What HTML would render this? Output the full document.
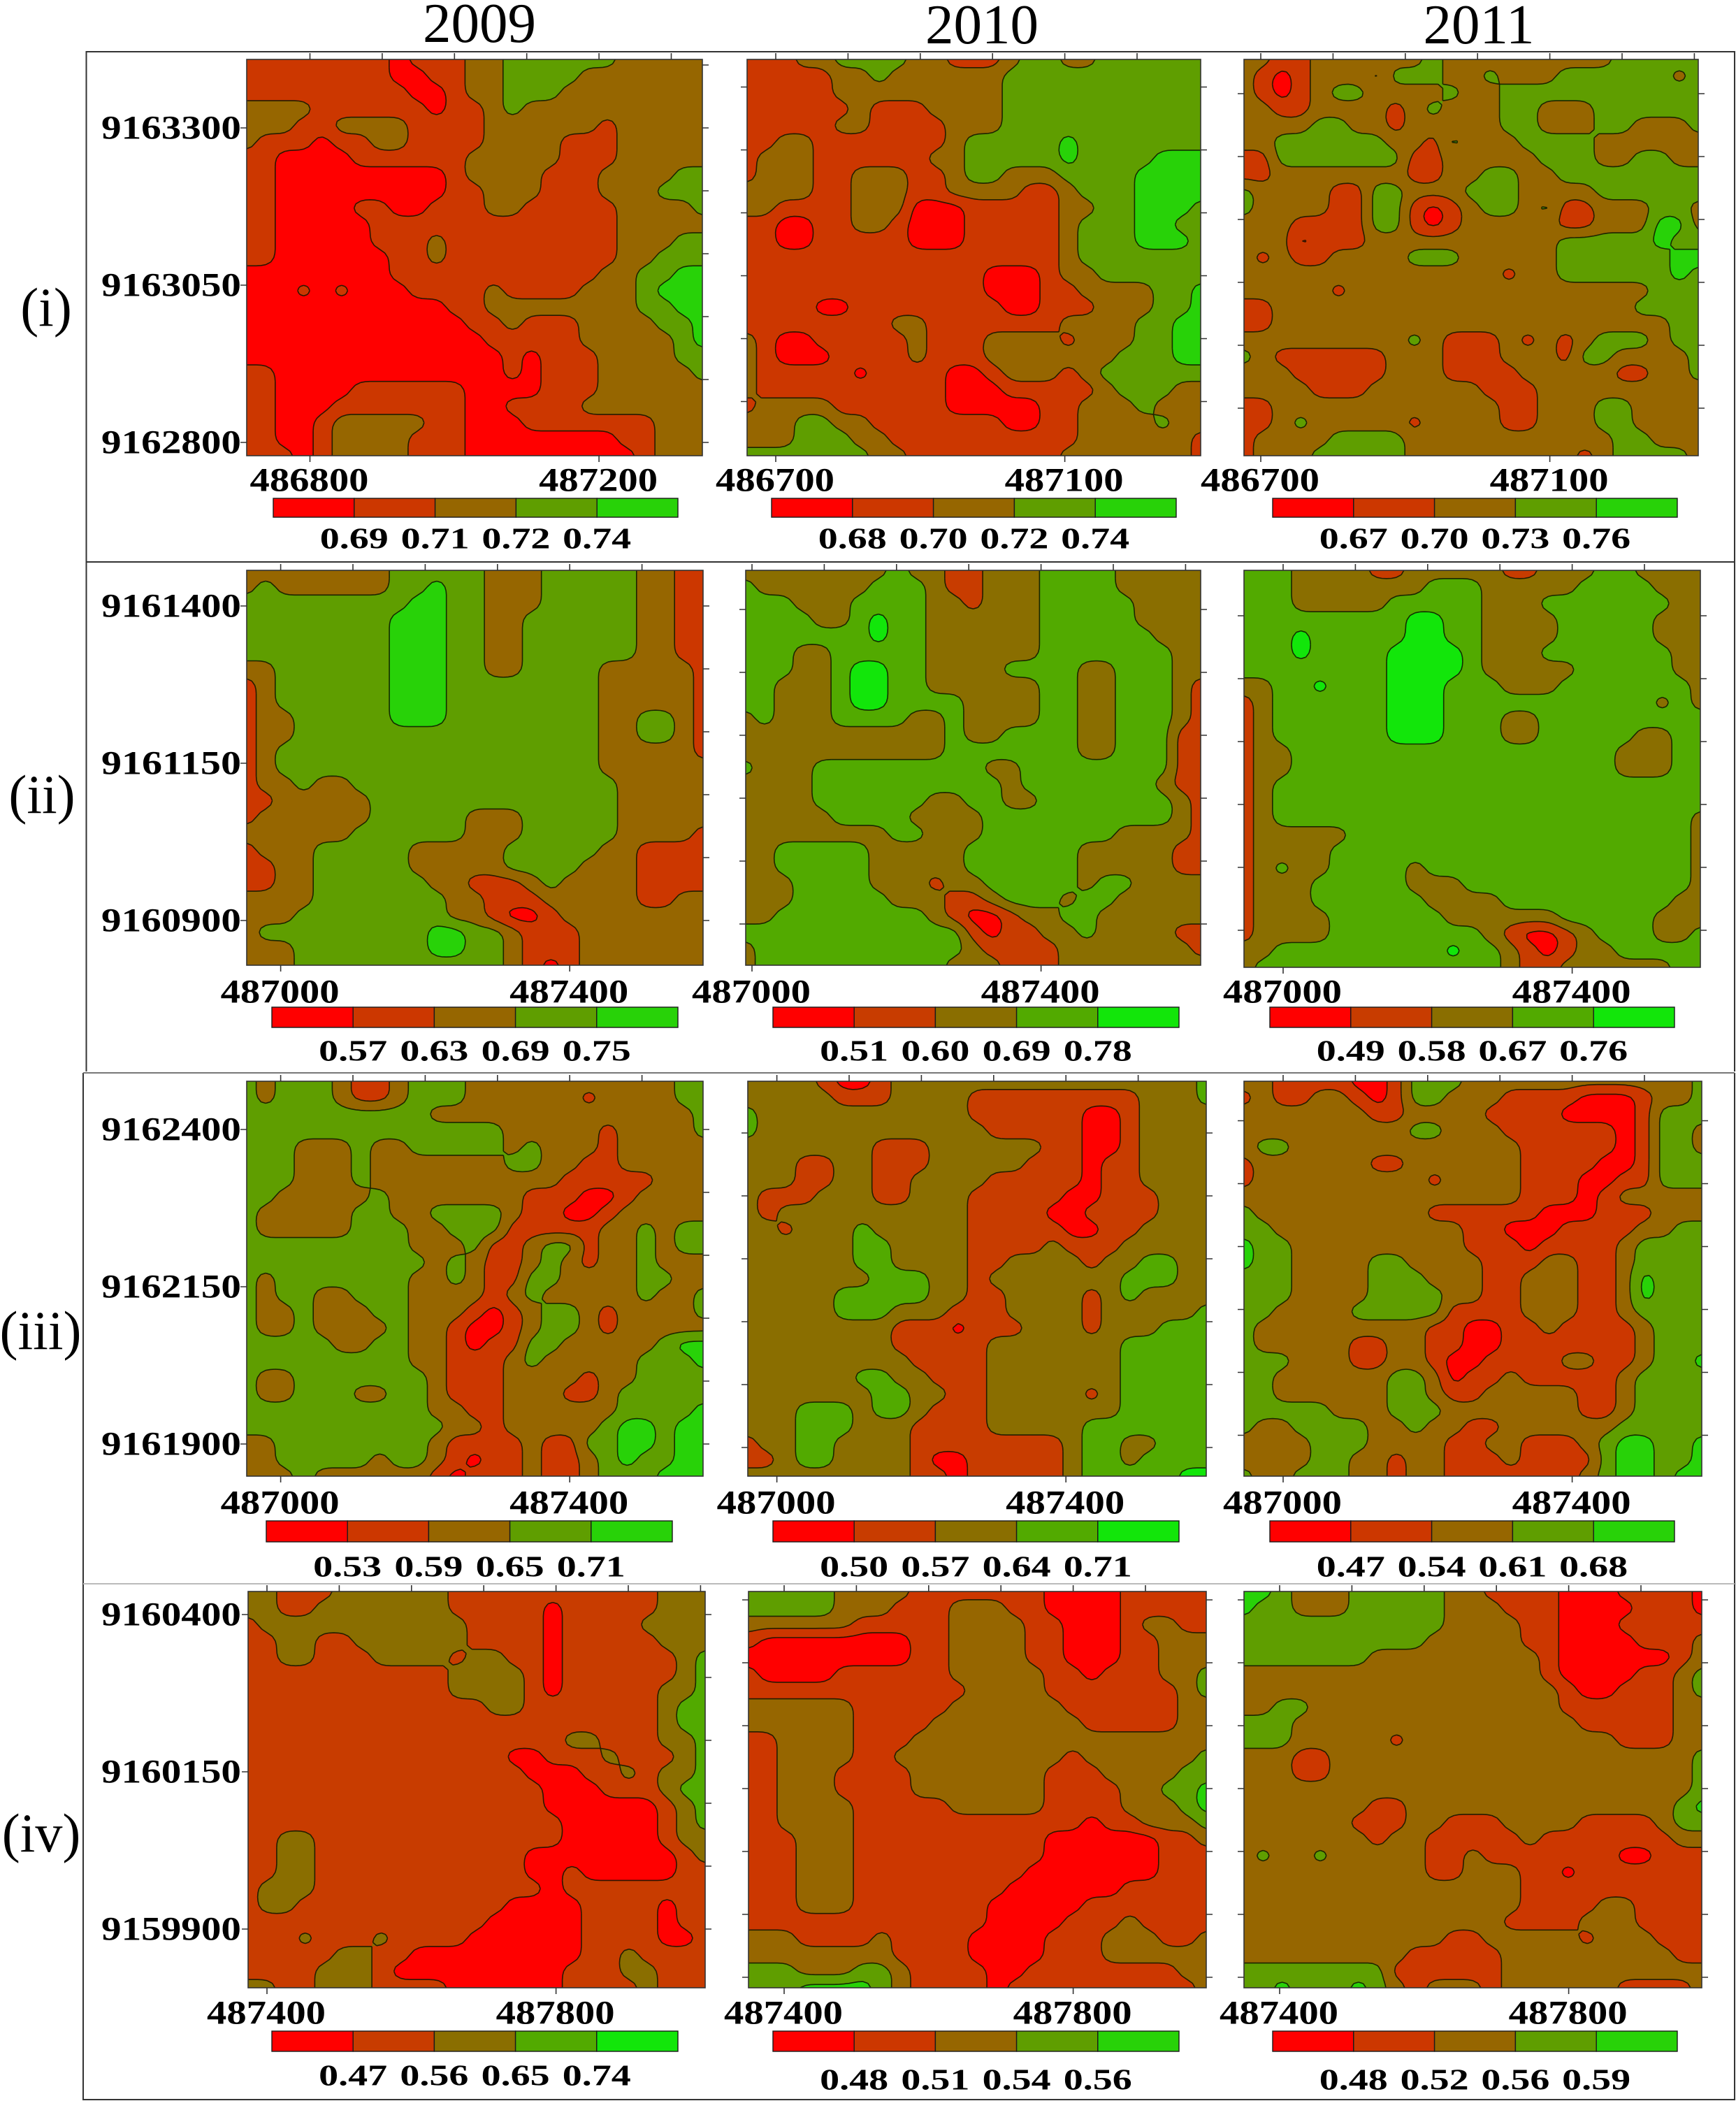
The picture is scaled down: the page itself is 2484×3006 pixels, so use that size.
<!DOCTYPE html>
<html lang="en">
<head>
<meta charset="utf-8">
<title>NDVI contour maps 2009-2011</title>
<style>
html,body{margin:0;padding:0;background:#fff;}
svg{display:block;}
text{font-family:"Liberation Serif",serif;fill:#000;}
.tick-text{font-weight:bold;}
</style>
</head>
<body>
<svg id="figure" xmlns="http://www.w3.org/2000/svg" width="2484" height="3006" viewBox="0 0 2484 3006">
<rect x="0" y="0" width="2484" height="3006" fill="#fff"/>
<g stroke="#333" stroke-width="2" fill="none">
<path d="M123.5 1533V74H2482V1533"/>
<path d="M119 1535V3004H2482V1535"/>
<line x1="123" y1="804" x2="2482" y2="804"/>
<line x1="119" y1="1535" x2="2482" y2="1535" stroke="#777"/>
<line x1="119" y1="2266" x2="2482" y2="2266" stroke="#bbb"/>
</g>
<text x="686" y="60" font-size="81" text-anchor="middle">2009</text>
<text x="1405" y="62" font-size="81" text-anchor="middle">2010</text>
<text x="2116" y="62" font-size="81" text-anchor="middle">2011</text>
<text x="66" y="466" font-size="78" text-anchor="middle">(i)</text>
<text x="60" y="1163" font-size="78" text-anchor="middle">(ii)</text>
<text x="58" y="1930" font-size="78" text-anchor="middle">(iii)</text>
<text x="59" y="2649" font-size="78" text-anchor="middle">(iv)</text>
<g id="panels"></g>
</svg>
<script>
// Value class at each sample location (0 = lowest NDVI class ... 4 = highest)
const gridP1 = ["1111111101112233333322222","1111111100112233332222222","1111111110012233322222222","2222111111011232222222222","2221122221111222222122222","2111011221111222211122222","1100001111112222211122222","1100000000012222111222233","1100000000011222111222333","1100001100111221111122223","1100000111111111111122222","1100000111211111111122233","1100000011211111111122333","0000000011111111111223344","0001010001111211112223444","0000000000011222222223344","0000000000001121112222334","0000000000000111112222234","0000000000000010111222233","1100000000000010111222223","1100001111110000111222222","1100011111110011112222222","1100122222110001111111222","1100122221110000000011222","1110122221110000000001222"];
const gridP2 = ["1112233332211123322333333","1111122322222233333333333","1111122222222233333333333","1111112111222233333333333","1111122111122233333333333","1122111111123333343333333","1222111111223333343333444","1222112221123322233334444","2222112221122221123334444","2211112220001111122334443","1100112210001111123334433","1100111110001111123334443","1111111111111111123333333","1111111111111000122333333","1111111111111000112222334","1111001111111100111222334","1111111122111111122223344","2100111112111222212223344","2100011112111222222233344","2111110111100122212333333","2111111111100011111233322","1222211111100000112223222","2223322111111100112222322","2223332211111111112222221","3333333221111111122222221"];
const gridP3 = ["2211222222322222222233333","2101222133322322233333323","2101233222232233333333333","2211222212322233222333333","2222332212222233222332223","2233333322132223333222222","1133333331122222333223322","1122222221122332233333333","3222211332223332222333333","3222211331012332311222332","2221111331012222211222442","2220111222222222233333433","2121122223332222233333344","2222222222222212233333343","2222212222222222222222333","1122222222222222222223333","1122222222222222222222233","2222222223211121212333233","3211111122211122213322223","2221111122211112222211223","2222111222222111222222222","1122222222222211222332222","1123222221222211222332222","1222233332222222222233222","1222333332222222221233332"];
const gridP4 = ["2222222233333222333332211","2322222233433222333332211","3333333334433222333332211","3333333344433223333332211","3333333344433223333332211","3333333344433223333332211","2233333344433223333222221","1233333344433333333222221","1233333344433333333222221","1223333344433333333223321","1223333333333333333223321","1233333333333333333222221","1233333333333333333222222","1223223333333333333322222","1122222333333333333322222","1222222333332223333322222","2222223333332223333322221","1222333332222233333221111","1122333332222233332221111","1122333333221112322221111","2222333333322111222221122","2223333333322100122222222","2333333333443321112222222","2223333333443321112222222","2223333333333321012222222"];
const gridP5 = ["2222222232211222333322222","3222222333211222333322222","3332223333221222333332222","3333223433222222333332222","3333333433222222333333222","3332233333222222333333322","3332234433222233332233322","3322234433222222332233321","3322234433332222332233321","2322233332232222332233321","2222222222232233332233311","2222222222233333332233311","3222333333333223333333311","2222333333333323333333211","2222333333223322333333321","2222233332222333333333321","2222222233222333333322221","2233333222223333332222211","2233333222223333332222211","2223333222122333332332222","2223333322211233323322222","2233333333210012233222222","3333333333331011223222211","2333333333332111122222221","2333333333322211122222222"];
const gridP6 = ["3332222112222211222332222","3332222222333222223333222","3332222233333222333333322","3333333334433222233333222","3334333334433222233333222","3334333344443222333333322","3333333344443222223333322","2233433344433322233333332","1233333344433333333333232","1233333344433322333333333","1233333344433322333332233","1223333333333333333322233","1223333333333333333322233","1233333333333333333333333","1233333333333333333333333","1233333333333333333333332","1222223333333333333333332","1222233333333333333333332","1232233332333333333333332","1222333332223333333333332","1222333333222233333333322","1222233333322222233333222","1222233333333210012333223","2233333333343321012233333","2333333333333321122222233"];
const gridP7 = ["3233321123332222222222233","3233321123332222221222233","3333333333222222222222223","3333333333333322222122223","3332223223333323222122222","3332223222222233221122222","3332223222222222211111222","3322222322222221110012222","3222223322333321100122222","3222223332233311111223233","3333333332223112331223233","3333333333232112321223222","3233333332232113322223322","3233223332222123222223223","3223222332221012332122223","3223222232210012332122222","3333322332210113322222344","3333333332211123222223334","3223333333211122221223333","3223332233211122211233333","3333333333221122222233334","3333333333322122222344344","2233333333211112113344344","2233333233210112112343344","2223222222101112112333444"];
const gridP8 = ["2222100122222222222222223","2222211122221111111112223","3222222222221111110012222","3222222222222111110012222","2222222111222222110012222","2221122111222221110112222","2221122112222111110112222","2111222112221111100111222","2122222222221111001111222","2212223222221111100112222","2222223322221111211122222","2222223322221122221223322","2222222333221222222233322","2222233333221122221232222","2222233322211122221222223","2222222211101112221222333","2222222211111222222233333","2222222221111222222233333","2222223322111222222233333","2222222332211222221233333","2223332332111222222233333","2223332221111222223333333","1223322221111111123322333","1123322221001111123323333","2222222221101111123333344"];
const gridP9 = ["2211110013332222222222223","1211221013322211110001223","2222222112222111100001333","2222222223322211111101332","2332222222222221111101332","1222222112222221111001333","1222222222122221110011333","2222222222222221110122222","3222222222111111000111222","3322222222221100011112233","4332222222221110111123333","4332222332222111221123333","3332222333222112221124333","3332222333322112221124333","3322223333311112221123333","3222222222110011211112333","3222221122110011111112333","3332221122100111122112334","3322222233201121111123333","3322222233211222221123333","3333322233322222221123333","3223333223221122222233333","2222333222211221112344334","2222332212211121111344334","3223332212211111112344344"];
const gridP10 = ["2211122222211111111111222","2211222222211111011111222","1222222222221111011112222","1122112222221111011111222","1122111222212211011111123","1111111111122221011111123","1111111111122221011111223","1111111111111221111111233","1111111111111111111111233","1111111111111111122111223","1111111111111100111211123","1111111111111110001121223","1111111111111111000111233","1111111111111111000000123","1111111111111111100000123","1122111111111111100000122","1122111111111110000000012","1122111111111110010000011","1222111111111111011111111","1221111111111100001111011","1111111111111000001111011","1112111211110000001111001","1111122110000000001121111","1111222100000000011122111","2211222111100000011112111"];
const gridP11 = ["3333322221111111000011111","3333322211122211000011111","2222221111122221100012211","1000000001122221100011222","0000000001122221100011222","1000011111122222110111223","1111111111112222111111123","2222221111122222211111122","2222221111222222221111122","1122221112222222222222222","1122221122222222212222223","1122211112222222111222233","1122211112222222111122334","1122221111122222111122234","1122221111111111110112223","1112221111111111000000112","1112221111111111000000111","1112221111111110000000111","1112221111111100000011111","1112221111111000001111111","1111111111111000011121111","2221111211110000111222112","2222222211110000111222222","3332223321111001111111122","3334444321111011111111112"];
const gridP12 = ["4432223333322111100011110","4332223333322211100001110","3333333333322221100011111","3333333333222221100001112","3333333222222222100000012","2222222222222222100001123","2222222222222222210011123","2233222222222222211111122","3332222222222222221111122","3332222212222222222211122","2221122222222222222222223","2221122222222222222222223","2222222222222222222222223","2222222112222222222222234","2222221112211122221111233","2222222122111112111111122","2322322222112111111100111","2222222222112221101111111","2222222222222221111111111","2222222222222221111221111","2222222222222211112221111","2222222222211222221222111","2222222221111122222222211","3333333311111122222222222","3343334321222122222211112"];

// Colour-bar class-break labels per panel
const breaksP1 = ["0.69","0.71","0.72","0.74"];
const breaksP2 = ["0.68","0.70","0.72","0.74"];
const breaksP3 = ["0.67","0.70","0.73","0.76"];
const breaksP4 = ["0.57","0.63","0.69","0.75"];
const breaksP5 = ["0.51","0.60","0.69","0.78"];
const breaksP6 = ["0.49","0.58","0.67","0.76"];
const breaksP7 = ["0.53","0.59","0.65","0.71"];
const breaksP8 = ["0.50","0.57","0.64","0.71"];
const breaksP9 = ["0.47","0.54","0.61","0.68"];
const breaksP10 = ["0.47","0.56","0.65","0.74"];
const breaksP11 = ["0.48","0.51","0.54","0.56"];
const breaksP12 = ["0.48","0.52","0.56","0.59"];

// Easting tick labels per panel, northing tick labels per row
const eastingsRow1Col1 = [486800,487200];
const eastingsRow1Other = [486700,487100];
const eastingsRow2and3 = [487000,487400];
const eastingsRow4 = [487400,487800];
const northingsRow1 = [9163300,9163050,9162800];
const northingsRow2 = [9161400,9161150,9160900];
const northingsRow3 = [9162400,9162150,9161900];
const northingsRow4 = [9160400,9160150,9159900];

const grids = [gridP1,gridP2,gridP3,gridP4,gridP5,gridP6,gridP7,gridP8,gridP9,gridP10,gridP11,gridP12];
const breaks = [breaksP1,breaksP2,breaksP3,breaksP4,breaksP5,breaksP6,breaksP7,breaksP8,breaksP9,breaksP10,breaksP11,breaksP12];
const eastings = [eastingsRow1Col1,eastingsRow1Other,eastingsRow1Other,eastingsRow2and3,eastingsRow2and3,eastingsRow2and3,eastingsRow2and3,eastingsRow2and3,eastingsRow2and3,eastingsRow4,eastingsRow4,eastingsRow4];
const northings = [northingsRow1,northingsRow2,northingsRow3,northingsRow4];

const paletteA = ["#ff0000","#cc3700","#966600","#5f9e00","#28d208"];
const paletteB = ["#ff0000","#c83c00","#8a6e00","#52aa00","#12e60a"];
const palettes = [paletteA,paletteA,paletteA,paletteA,paletteB,paletteB,paletteA,paletteB,paletteA,paletteB,paletteA,paletteA];

// Page layout (not data): plot frames, axis calibration, colour-bar frames
const layout = {
  frames:[[353,85,1005,652],[1069,85,1718,652],[1780,85,2430,652],[353,816,1006,1381],[1067,816,1718,1381],[1780,816,2433,1384],[353,1547,1006,2112],[1070,1547,1726,2112],[1780,1547,2435,2112],[355,2277,1009,2844],[1071,2277,1726,2844],[1780,2277,2435,2844]],
  eastOrigin:[443.5,1110,1804,401.6,1076,1836,401.6,1111.6,1836,382,1122,1831],
  eastPerM:1.034,
  northTickStart:[93,124.5,134,867,872,881,1616,1621,1603.5,2310,2289,2289],
  northPerM:0.9,
  northOrigin:[183,867,1616,2310],
  rowLabelY:[686,1418,2149,2879],
  bars:[[391,713,970,740,770],[1104,713,1683,740,770],[1821,713,2400,740,770],[389,1441,970,1470,1503],[1106,1441,1687,1470,1503],[1817,1441,2396,1470,1503],[381,2176,962,2206,2241],[1106,2176,1687,2206,2241],[1817,2176,2396,2206,2241],[389,2906,970,2935,2969],[1106,2906,1687,2935,2975],[1821,2906,2400,2935,2975]]
};

const SVGNS = "http://www.w3.org/2000/svg";
const root = document.getElementById("panels");

function make(tag, attrs, parent){
  const el = document.createElementNS(SVGNS, tag);
  for (const k in attrs) el.setAttribute(k, attrs[k]);
  parent.appendChild(el);
  return el;
}

// Resample the class grid to a finer lattice and smooth it so contours are rounded
function buildField(rows){
  const ny = rows.length, nx = rows[0].length, k = 4;
  const vals = rows.map(r => Array.from(r.padEnd(nx, r[r.length-1])).map(Number));
  const H = (ny-1)*k+1, W = (nx-1)*k+1;
  let f = [];
  for (let j=0;j<H;j++){
    const row = new Float32Array(W);
    const gy = j/k, y0 = Math.min(Math.floor(gy), ny-2), ty = gy-y0;
    for (let i=0;i<W;i++){
      const gx = i/k, x0 = Math.min(Math.floor(gx), nx-2), tx = gx-x0;
      row[i] = (vals[y0][x0]*(1-tx)+vals[y0][x0+1]*tx)*(1-ty)+(vals[y0+1][x0]*(1-tx)+vals[y0+1][x0+1]*tx)*ty;
    }
    f.push(row);
  }
  for (let pass=0;pass<2;pass++){
    const g = [];
    for (let j=0;j<H;j++){
      const row = new Float32Array(W);
      for (let i=0;i<W;i++){
        let s=0;
        for (let dj=-1;dj<=1;dj++) for (let di=-1;di<=1;di++){
          const jj=Math.max(0,Math.min(H-1,j+dj)), ii=Math.max(0,Math.min(W-1,i+di));
          s+=f[jj][ii];
        }
        row[i]=s/9;
      }
      g.push(row);
    }
    f=g;
  }
  return {f, W, H};
}

// Marching squares: returns a filled-region path and an isoline path for one threshold
function contourPaths(field, level, sx, sy){
  const {f,W,H} = field, t = level-0.5;
  let fill = "", line = "";
  const P = (x,y)=>sx(x).toFixed(1)+" "+sy(y).toFixed(1);
  for (let j=0;j<H-1;j++){
    let run = -1;
    for (let i=0;i<W-1;i++){
      const c = [[i,j,f[j][i]],[i+1,j,f[j][i+1]],[i+1,j+1,f[j+1][i+1]],[i,j+1,f[j+1][i]]];
      const ins = c.map(p=>p[2]>=t);
      const cnt = ins.filter(Boolean).length;
      if (cnt===4){ if(run<0) run=i; continue; }
      if (run>=0){ fill+="M"+P(run,j)+"L"+P(i,j)+"L"+P(i,j+1)+"L"+P(run,j+1)+"Z"; run=-1; }
      if (cnt===0) continue;
      const poly=[], cross=[];
      for (let q=0;q<4;q++){
        const a=c[q], b=c[(q+1)%4];
        if (ins[q]) poly.push([a[0],a[1]]);
        if (ins[q]!==ins[(q+1)%4]){
          const u=(t-a[2])/(b[2]-a[2]);
          const pt=[a[0]+(b[0]-a[0])*u,a[1]+(b[1]-a[1])*u];
          poly.push(pt); cross.push(pt);
        }
      }
      fill+="M"+poly.map(p=>P(p[0],p[1])).join("L")+"Z";
      for (let q=0;q+1<cross.length;q+=2) line+="M"+P(cross[q][0],cross[q][1])+"L"+P(cross[q+1][0],cross[q+1][1]);
    }
    if (run>=0) fill+="M"+P(run,j)+"L"+P(W-1,j)+"L"+P(W-1,j+1)+"L"+P(run,j+1)+"Z";
  }
  return {fill,line};
}

function tickText(str, cx, cy, size, width, parent){
  return make("text",{x:cx,y:cy+0.34*size,"font-size":size,"text-anchor":"middle","class":"tick-text",textLength:width,lengthAdjust:"spacingAndGlyphs"},parent);
}

grids.forEach(function(rows, p){
  const fr = layout.frames[p];
  const left=fr[0], top=fr[1], right=fr[2], bottom=fr[3];
  const rowIdx = Math.floor(p/3), colIdx = p%3;
  const g = make("g",{},root);
  
  

  const field = buildField(rows);
  const gx = v => left + v/(field.W-1)*(right-left);
  const gy = v => top + v/(field.H-1)*(bottom-top);
  const pal = palettes[p];

  const base = make("rect",{x:left,y:top,width:right-left,height:bottom-top,fill:pal[0]},g);
  
  

  let lines = "";
  for (let L=1;L<=4;L++){
    const res = contourPaths(field,L,gx,gy);
    lines += res.line;
    const reg = make("path",{d:res.fill,fill:pal[L]},g);
    
    
  }
  const iso = make("path",{d:lines,fill:"none",stroke:"#0a1400","stroke-width":1.6,"stroke-opacity":0.85},g);
  
  

  const frame = make("rect",{x:left,y:top,width:right-left,height:bottom-top,fill:"none",stroke:"#333","stroke-width":1.6},g);
  
  

  // Axis functions
  const labels = eastings[p];
  const xAxis = e => layout.eastOrigin[p] + (e-labels[0])*layout.eastPerM;
  const yTick = m => layout.northTickStart[p] + m*layout.northPerM;
  const yAxis = n => layout.northOrigin[rowIdx] + (northings[rowIdx][0]-n)*layout.northPerM;

  let tickD = "";
  for (let e=labels[0]; xAxis(e)<=right; e+=100){
    const x=xAxis(e).toFixed(1);
    tickD+="M"+x+" "+top+"V"+(top-9);
  }
  labels.forEach(e=>{ const x=xAxis(e).toFixed(1); tickD+="M"+x+" "+bottom+"V"+(bottom+9); });
  for (let m=0; yTick(m)<=bottom; m+=100){
    const y=yTick(m).toFixed(1);
    tickD+="M"+right+" "+y+"H"+(right+9);
    if (colIdx>0) tickD+="M"+left+" "+y+"H"+(left-9);
  }
  if (colIdx===0) northings[rowIdx].forEach(n=>{ const y=yAxis(n).toFixed(1); tickD+="M"+left+" "+y+"H"+(left-9); });
  const ticks = make("path",{d:tickD,fill:"none",stroke:"#333","stroke-width":1.6},g);
  
  

  labels.forEach(function(e){
    const t = tickText(String(e), xAxis(e)-1, layout.rowLabelY[rowIdx], 48, 170, g);
    t.textContent = String(e);
    
    
  });
  if (colIdx===0){
    northings[rowIdx].forEach(function(n){
      const t = tickText(String(n), 245, yAxis(n)-1, 48, 200, g);
      t.textContent = String(n);
      
      
    });
  }

  // Colour bar
  const b = layout.bars[p];
  const segW = (b[2]-b[0])/pal.length;
  const bar = make("g",{},g);
  
  
  pal.forEach(function(col,i){
    const seg = make("rect",{x:b[0]+i*segW,y:b[1],width:segW,height:b[3]-b[1],fill:col,stroke:"#1a1a1a","stroke-width":1.4},bar);
    
    
  });
  breaks[p].forEach(function(label,i){
    const t = tickText(label, b[0]+(i+1)*segW, b[4], 42, 98, bar);
    t.textContent = label;
    
    
  });
});
</script>
</body>
</html>
